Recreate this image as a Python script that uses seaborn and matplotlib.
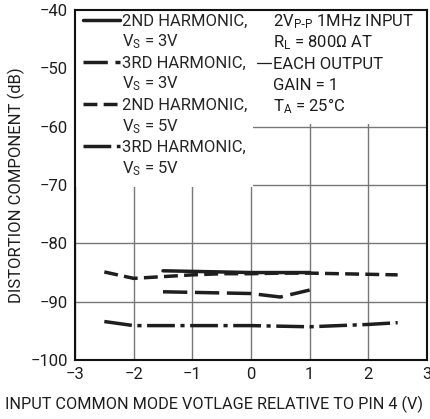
import pandas as pd
import matplotlib
matplotlib.use("Agg")
import matplotlib.pyplot as plt
import seaborn as sns
from matplotlib.lines import Line2D

# data
x_5v = [-2.5, -2.0, -1.5, -1.0, -0.5, 0.0, 0.5, 1.0, 1.5, 2.0, 2.5]
h2_5v = [-84.9, -86.0, -85.7, -85.4, -85.2, -85.2, -85.1, -85.1, -85.2, -85.3, -85.4]
h3_5v = [-93.4, -94.1, -94.1, -94.1, -94.1, -94.1, -94.2, -94.3, -94.1, -93.9, -93.6]
x_3v = [-1.5, -1.0, -0.5, 0.0, 0.5, 1.0]
h2_3v = [-84.7, -84.8, -84.9, -85.0, -85.0, -85.0]
h3_3v = [-88.3, -88.4, -88.5, -88.6, -89.2, -88.0]

series_names = ["2ND HARMONIC, VS = 3V", "3RD HARMONIC, VS = 3V",
                "2ND HARMONIC, VS = 5V", "3RD HARMONIC, VS = 5V"]
legend_lines = [("2ND HARMONIC,", r"V$\mathregular{_S}$ = 3V"),
                ("3RD HARMONIC,", r"V$\mathregular{_S}$ = 3V"),
                ("2ND HARMONIC,", r"V$\mathregular{_S}$ = 5V"),
                ("3RD HARMONIC,", r"V$\mathregular{_S}$ = 5V")]
note_lines = [r"2V$\mathregular{_{P\text{-}P}}$ 1MHz INPUT",
              r"R$\mathregular{_L}$ = 800Ω AT",
              "EACH OUTPUT",
              "GAIN = 1",
              r"T$\mathregular{_A}$ = 25°C"]

df = pd.concat([
    pd.DataFrame({"x": x_3v, "y": h2_3v, "s": series_names[0]}),
    pd.DataFrame({"x": x_3v, "y": h3_3v, "s": series_names[1]}),
    pd.DataFrame({"x": x_5v, "y": h2_5v, "s": series_names[2]}),
    pd.DataFrame({"x": x_5v, "y": h3_5v, "s": series_names[3]}),
])

sns.set_style("white")
plt.rcParams["font.family"] = ["Roboto", "DejaVu Sans"]

ink = "#1e1e1e"
fs = 12
fig = plt.figure(figsize=(4.3, 4.19), dpi=100)
ax = fig.add_axes([0.1744, 0.1408, 0.8186, 0.835])

dashes = {series_names[0]: "",
          series_names[1]: (7, 2.2),
          series_names[2]: (4, 1.8),
          series_names[3]: (8, 1.6, 1.2, 1.6)}
sns.lineplot(data=df, x="x", y="y", style="s", style_order=series_names,
             dashes=dashes, color=ink, lw=2.5, legend=False, ax=ax, zorder=3)

ax.set_xlim(-3, 3)
ax.set_ylim(-100, -40)
ax.set_xticks(range(-3, 4))
ax.set_yticks(range(-100, -39, 10))
ax.set_xticklabels([str(v).replace("-", "\u2212") for v in range(-3, 4)])
ax.set_yticklabels([str(v).replace("-", "\u2212") for v in range(-100, -39, 10)])
ax.tick_params(length=0, labelsize=fs, pad=5, colors=ink)
ax.grid(True, color="#777777", lw=1.0, zorder=0)
ax.set_axisbelow(True)
for sp in ax.spines.values():
    sp.set_color("#111111")
    sp.set_linewidth(1.5)

ax.set_xlabel("INPUT COMMON MODE VOTLAGE RELATIVE TO PIN 4 (V)", fontsize=11.7,
              color=ink, ha="left", va="top")
ax.xaxis.set_label_coords(-0.199, -0.103)
ax.set_ylabel("DISTORTION COMPONENT (dB)", fontsize=fs, color=ink, labelpad=4)

# white areas behind legend and note
ax.fill_between([-3, 0.03], -70.3, -40, color="white", zorder=1, lw=0)
ax.fill_between([0.03, 3], -59.6, -40, color="white", zorder=1, lw=0)

# legend: one handle per series, second text line with an empty handle
handles, labels = [], []
for name, (l1, l2) in zip(series_names, legend_lines):
    d = dashes[name]
    h = Line2D([], [], color=ink, lw=2.5)
    if d:
        h.set_dashes(d)
    handles.append(h)
    labels.append(l1)
    handles.append(Line2D([], [], alpha=0))
    labels.append(l2)
leg = ax.legend(handles, labels, loc="upper left", bbox_to_anchor=(0, 1.014),
                frameon=False, fontsize=fs,
                handlelength=2.2, handletextpad=0.12, labelspacing=0.25,
                borderaxespad=0.3, borderpad=0.2)
leg.set_zorder(5)

# note text on the right
for i, t in enumerate(note_lines):
    ax.text(0.37, -41.95 - i * 3.65, t, fontsize=fs, color=ink,
            va="center", ha="left", zorder=5)
ax.plot([0.1, 0.34], [-49.1, -49.1], color=ink, lw=0.9, zorder=5)

fig.savefig("out.png", dpi=100)
